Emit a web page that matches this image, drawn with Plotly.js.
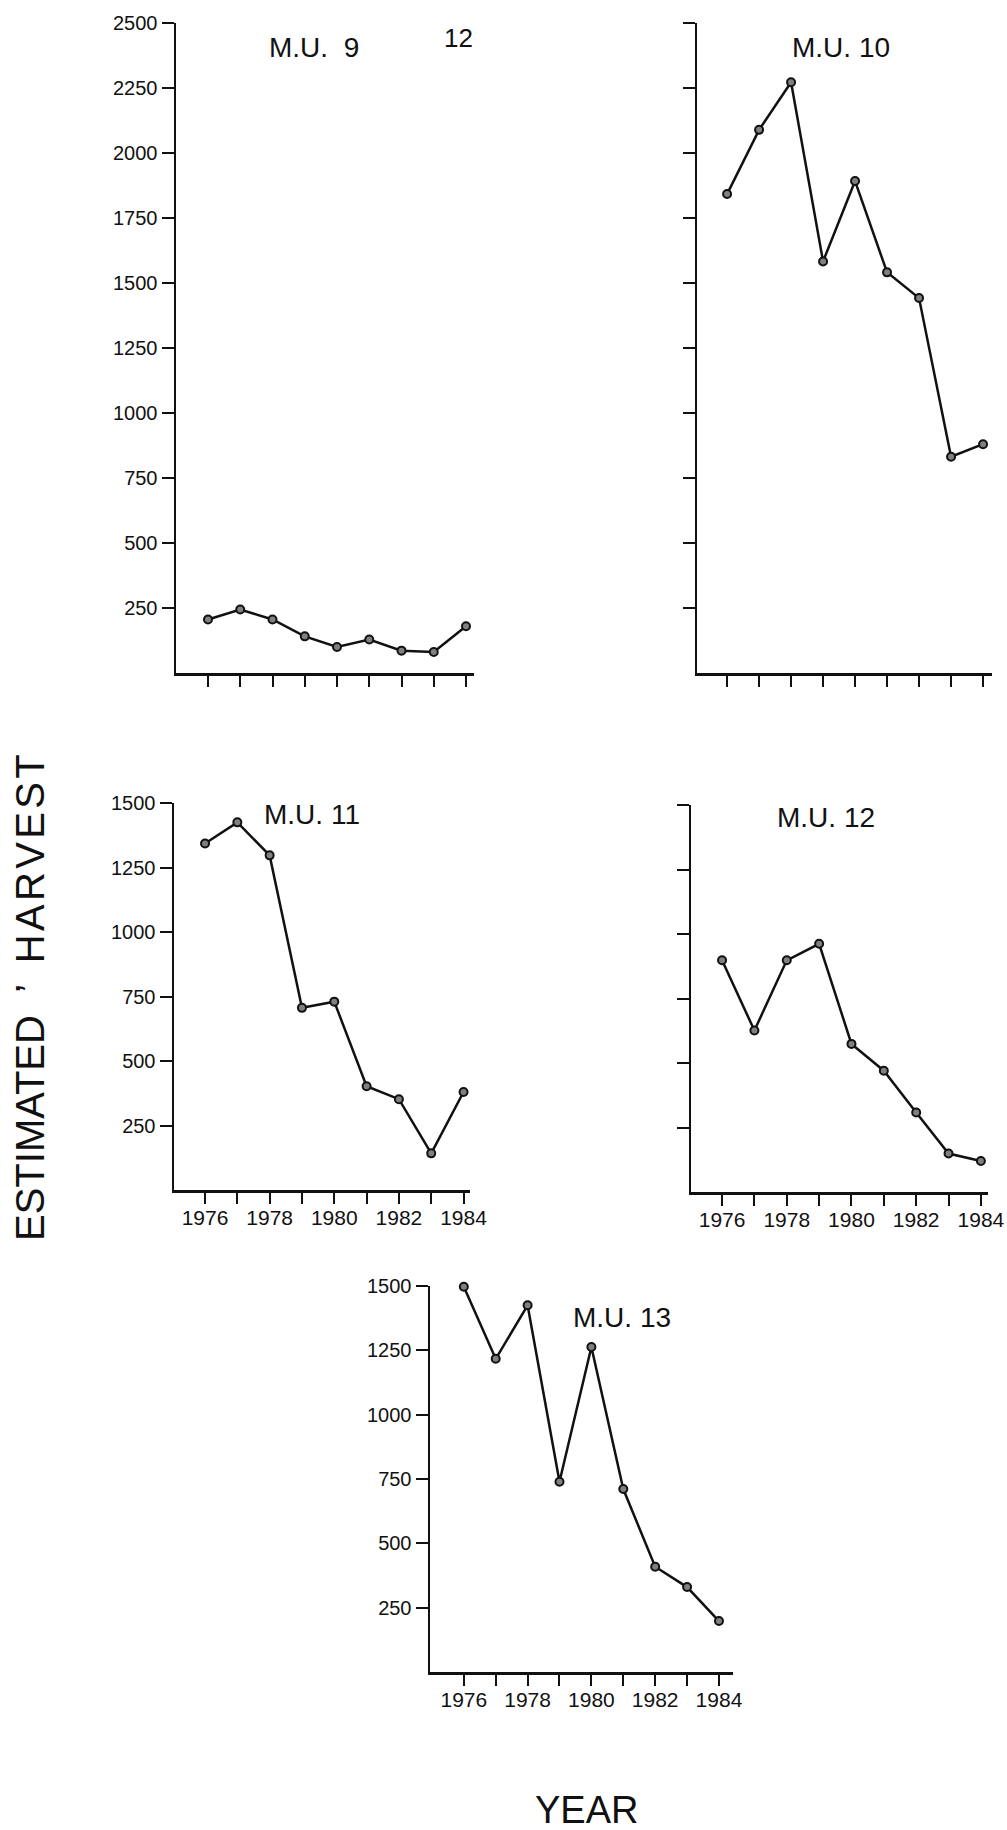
<!DOCTYPE html>
<html>
<head>
<meta charset="utf-8">
<script src="https://cdn.plot.ly/plotly-3.0.1.min.js"></script>
<style>
  html, body { margin: 0; padding: 0; background: #fff; }
  #chart { width: 1007px; height: 1830px; }
</style>
</head>
<body>
<div id="chart"></div>
<script>
// ---- Data ----
const years = [1976, 1977, 1978, 1979, 1980, 1981, 1982, 1983, 1984];
const mu9  = [206, 244, 206, 141, 100, 129, 86, 81, 180];
const mu10 = [1842, 2089, 2272, 1583, 1892, 1541, 1442, 832, 880];
const mu11 = [1343, 1425, 1297, 706, 730, 402, 352, 142, 380];
const mu12 = [898, 626, 898, 962, 574, 470, 308, 149, 120];
const mu13 = [1497, 1217, 1425, 739, 1263, 711, 409, 330, 198];

const panelTitles = ["M.U.  9", "M.U. 10", "M.U. 11", "M.U. 12", "M.U. 13"];
const xTickText = ["1976", "", "1978", "", "1980", "", "1982", "", "1984"];
const yTicksTall = [250, 500, 750, 1000, 1250, 1500, 1750, 2000, 2250, 2500];
const yTicksShort = [250, 500, 750, 1000, 1250, 1500];
const yTitleWord1 = "ESTIMATED";
const yTitleWord2 = "HARVEST";
const xAxisTitle = "YEAR";
const pageNumber = "12";

// ---- Layout helpers ----
const W = 1007, H = 1830;
const px = v => v / W;
const py = v => 1 - v / H;
const FONT = "Liberation Sans, Arial, Helvetica, sans-serif";
const spaced = s => s.split("").join("\u200A");

const seriesList = [mu9, mu10, mu11, mu12, mu13];

// pixel geometry of each panel
const panels = [
  { x: [176, 474], y: [23, 673],    xr: [1975.008, 1984.248], yr: [0, 2500], yt: yTicksTall,  lab: true,  xlab: false },
  { x: [697, 992], y: [23, 673],    xr: [1975.06, 1984.28],   yr: [0, 2500], yt: yTicksTall,  lab: false, xlab: false },
  { x: [174, 470], y: [803, 1190],  xr: [1975.04, 1984.2],    yr: [0, 1500], yt: yTicksShort, lab: true,  xlab: true },
  { x: [691, 988], y: [805, 1192],  xr: [1975.04, 1984.22],   yr: [0, 1500], yt: yTicksShort, lab: false, xlab: true },
  { x: [430, 733], y: [1286, 1672], xr: [1974.94, 1984.44],   yr: [0, 1500], yt: yTicksShort, lab: true,  xlab: true }
];

const data = [];
const layout = {
  width: W, height: H,
  margin: { l: 0, r: 0, t: 0, b: 0, pad: 0 },
  paper_bgcolor: "#ffffff",
  plot_bgcolor: "rgba(0,0,0,0)",
  showlegend: false,
  font: { family: FONT, color: "#111" },
  annotations: []
};

panels.forEach((p, i) => {
  const n = i + 1;
  const xa = "x" + (n === 1 ? "" : n);
  const ya = "y" + (n === 1 ? "" : n);
  data.push({
    type: "scatter", mode: "lines+markers",
    x: years, y: seriesList[i],
    xaxis: xa, yaxis: ya,
    line: { color: "#111", width: 2.5 },
    marker: { symbol: "circle", size: 8, color: "#808080", line: { color: "#111", width: 2 } },
    cliponaxis: false,
    hoverinfo: "x+y"
  });
  layout["xaxis" + (n === 1 ? "" : n)] = {
    domain: [px(p.x[0]), px(p.x[1])],
    anchor: ya,
    range: p.xr,
    showgrid: false, zeroline: false,
    showline: true, linecolor: "#111", linewidth: 2.5,
    ticks: "outside", ticklen: 11, tickwidth: 2, tickcolor: "#111",
    tickmode: "array", tickvals: years, ticktext: xTickText,
    showticklabels: p.xlab,
    ticklabelstandoff: -4,
    tickfont: { family: FONT, size: 21, color: "#111" },
    fixedrange: true
  };
  layout["yaxis" + (n === 1 ? "" : n)] = {
    domain: [py(p.y[1]), py(p.y[0])],
    anchor: xa,
    range: p.yr,
    showgrid: false, zeroline: false,
    showline: true, linecolor: "#111", linewidth: 2.5,
    ticks: "outside", ticklen: 12, tickwidth: 2, tickcolor: "#111",
    tickmode: "array", tickvals: p.yt, ticktext: p.yt.map(String),
    showticklabels: p.lab,
    ticklabelstandoff: 0,
    tickfont: { family: FONT, size: 20, color: "#111" },
    fixedrange: true
  };
});

// panel labels
const titlePos = [[314, 47], [841, 47], [312, 814], [826, 817], [622, 1317]];
titlePos.forEach((t, i) => {
  layout.annotations.push({
    xref: "paper", yref: "paper", x: px(t[0]), y: py(t[1]),
    xanchor: "center", yanchor: "middle", showarrow: false,
    text: panelTitles[i],
    font: { family: FONT, size: 28, color: "#111" }
  });
});

// page number
layout.annotations.push({
  xref: "paper", yref: "paper", x: px(458), y: py(38),
  xanchor: "center", yanchor: "middle", showarrow: false,
  text: pageNumber, font: { family: FONT, size: 26, color: "#111" }
});

// shared axis titles
layout.annotations.push({
  xref: "paper", yref: "paper", x: px(30), y: py(998),
  xanchor: "center", yanchor: "middle", showarrow: false, textangle: -90,
  text: yTitleWord1 + "  \u2019  " + spaced(yTitleWord2),
  font: { family: FONT, size: 40, color: "#111" }
});
layout.annotations.push({
  xref: "paper", yref: "paper", x: px(586), y: py(1810),
  xanchor: "center", yanchor: "middle", showarrow: false,
  text: xAxisTitle, font: { family: FONT, size: 38, color: "#111" }
});

Plotly.newPlot("chart", data, layout, { staticPlot: true, displayModeBar: false });
</script>
</body>
</html>
